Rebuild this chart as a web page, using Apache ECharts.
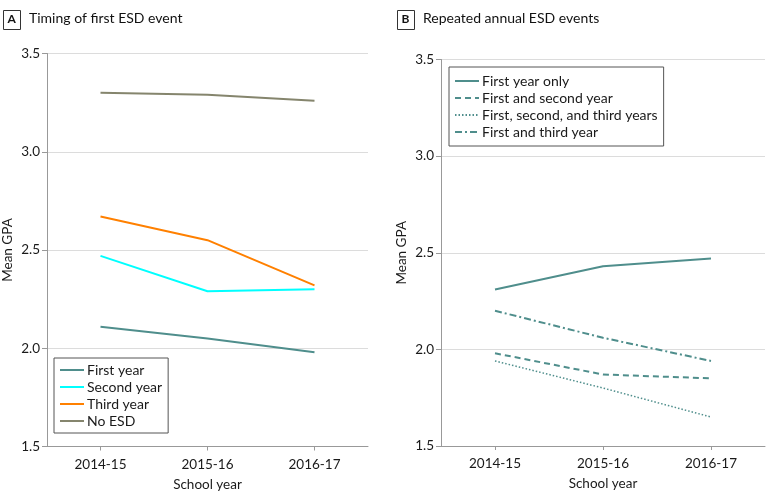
<!DOCTYPE html>
<html>
<head>
<meta charset="utf-8">
<script src="https://cdn.jsdelivr.net/npm/echarts@6/dist/echarts.min.js"></script>
<style>html,body{margin:0;padding:0;background:#fff}#c{width:783px;height:501px}</style>
</head>
<body>
<div id="c"></div>
<script>
const years = ['2014-15', '2015-16', '2016-17'];
const yTicks = [1.5, 2.0, 2.5, 3.0, 3.5];

// Panel A: Timing of first ESD event
const aFirstYear = [2.11, 2.05, 1.98];
const aSecondYear = [2.47, 2.29, 2.30];
const aThirdYear = [2.67, 2.55, 2.32];
const aNoESD = [3.30, 3.29, 3.26];

// Panel B: Repeated annual ESD events
const bFirstOnly = [2.31, 2.43, 2.47];
const bFirstSecond = [1.98, 1.87, 1.85];
const bFirstSecondThird = [1.94, 1.80, 1.65];
const bFirstThird = [2.20, 2.06, 1.94];

const FONT = 'Lato';
const teal = '#4f8e8c';
const textColor = '#1a1a1a';

const chart = echarts.init(document.getElementById('c'), null, {renderer: 'canvas'});

function yAxis(gridIndex) {
  return {
    type: 'value', gridIndex, min: yTicks[0], max: yTicks[yTicks.length - 1], interval: 0.5,
    name: 'Mean GPA', nameLocation: 'middle', nameGap: 32, nameRotate: 90,
    nameTextStyle: {fontFamily: FONT, fontSize: 13.5, color: textColor},
    axisLine: {show: true, lineStyle: {color: '#999', width: 1}},
    axisTick: {show: true, length: 5, lineStyle: {color: '#999'}},
    splitLine: {show: true, lineStyle: {color: '#dcdcdc', width: 1}},
    axisLabel: {fontFamily: FONT, fontSize: 13.5, color: textColor, margin: 7,
      formatter: v => v.toFixed(1)}
  };
}
function xAxis(gridIndex) {
  return {
    type: 'category', gridIndex, data: years, boundaryGap: true,
    name: 'School year', nameLocation: 'middle', nameGap: 31,
    nameTextStyle: {fontFamily: FONT, fontSize: 13.5, color: textColor},
    axisLine: {show: true, lineStyle: {color: '#999', width: 1}},
    axisTick: {show: true, alignWithLabel: true, length: 4, lineStyle: {color: '#999'}},
    axisLabel: {fontFamily: FONT, fontSize: 13.5, color: textColor, margin: 11},
    splitLine: {show: false}
  };
}
function line(name, data, color, type, width, xi) {
  return {
    name, type: 'line', data, xAxisIndex: xi, yAxisIndex: xi,
    symbol: 'none', showSymbol: false, smooth: false,
    lineStyle: {color, width, type}, itemStyle: {color},
    emphasis: {disabled: true}, animation: false
  };
}
const legendCommon = {
  orient: 'vertical', borderColor: '#555', borderWidth: 1, backgroundColor: '#fff',
  itemWidth: 24, itemHeight: 12, itemGap: 5,
  itemStyle: {opacity: 0},
  textStyle: {fontFamily: FONT, fontSize: 14, color: textColor, lineHeight: 12, padding: [0, 0, 0, -2]},
  padding: [6, 6, 6, 5], selectedMode: false
};

function panelLabel(x, letter, title) {
  return [
    {type: 'rect', left: x, top: 10, shape: {width: 17, height: 19},
      style: {fill: '#fff', stroke: '#333', lineWidth: 1}},
    {type: 'text', left: x + 4.5, top: 13, style: {text: letter, font: 'bold 12px ' + FONT, fill: '#111'}},
    {type: 'text', left: x + 26, top: 11, style: {text: title, font: '14px ' + FONT, fill: '#111'}}
  ];
}

chart.setOption({
  animation: false,
  grid: [
    {left: 44, top: 53.5, width: 324, height: 393},
    {left: 441, top: 59.5, width: 324, height: 386.5}
  ],
  xAxis: [xAxis(0), xAxis(1)],
  yAxis: [yAxis(0), yAxis(1)],
  legend: [
    Object.assign({}, legendCommon, {left: 54, top: 358, itemGap: 3, padding: [5, 6, 5, 5],
      data: ['First year', 'Second year', 'Third year', 'No ESD']}),
    Object.assign({}, legendCommon, {left: 449, top: 67, itemGap: 3, padding: [7, 6, 7, 5],
      data: ['First year only', 'First and second year', 'First, second, and third years', 'First and third year']})
  ],
  series: [
    line('First year', aFirstYear, teal, 'solid', 2, 0),
    line('Second year', aSecondYear, '#00ffff', 'solid', 2, 0),
    line('Third year', aThirdYear, '#ff8000', 'solid', 2, 0),
    line('No ESD', aNoESD, '#85856d', 'solid', 2, 0),
    line('First year only', bFirstOnly, teal, 'solid', 2, 1),
    line('First and second year', bFirstSecond, teal, [6, 4], 2, 1),
    line('First, second, and third years', bFirstSecondThird, teal, [1.5, 2], 1.5, 1),
    line('First and third year', bFirstThird, teal, [7, 3, 2, 3], 2, 1)
  ],
  graphic: [].concat(panelLabel(3, 'A', 'Timing of first ESD event'), panelLabel(397, 'B', 'Repeated annual ESD events'))
});
</script>
</body>
</html>
